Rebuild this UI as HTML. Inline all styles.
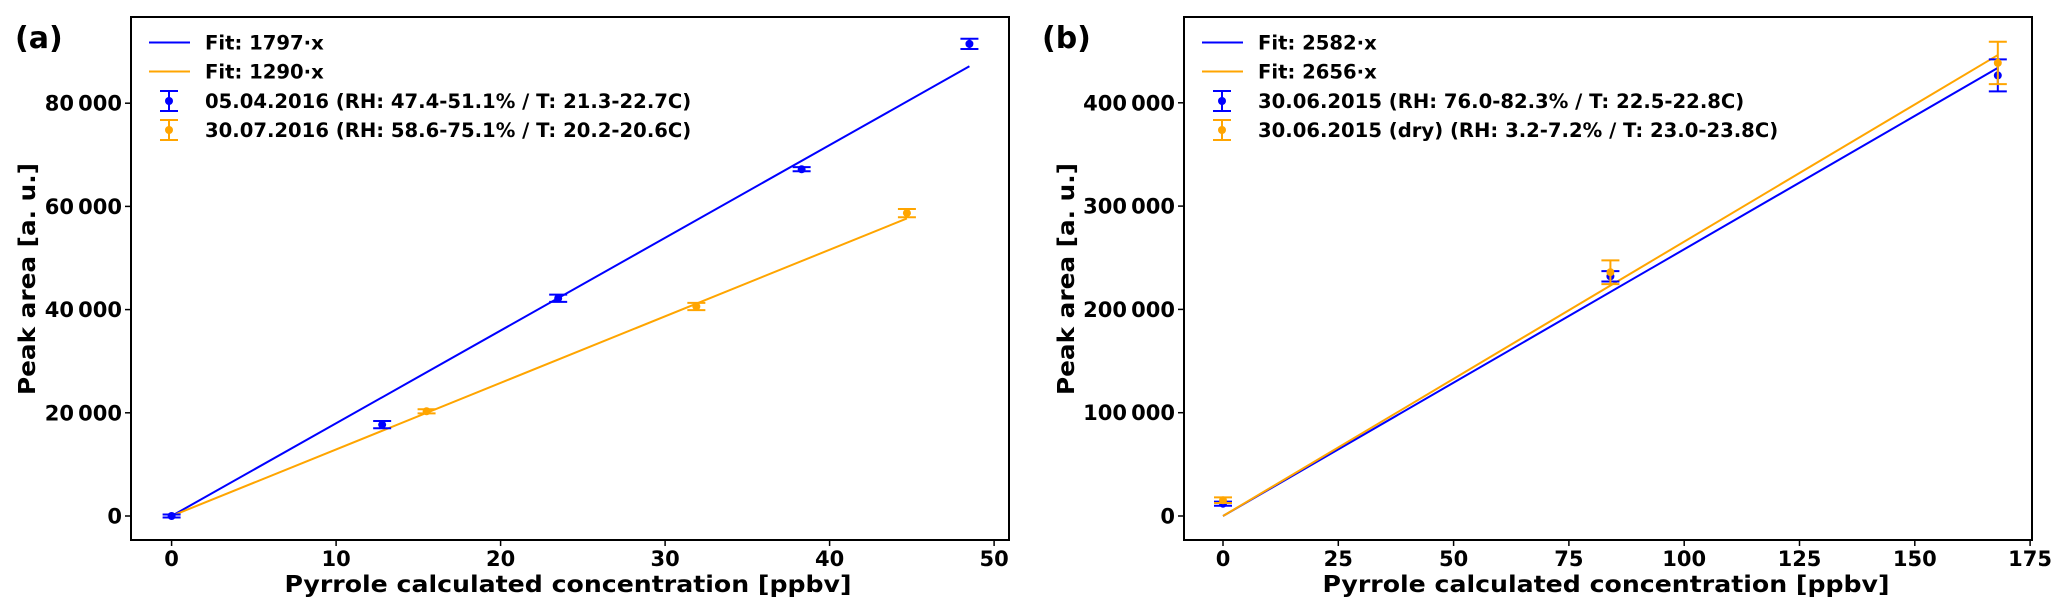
<!DOCTYPE html>
<html><head><meta charset="utf-8"><style>
html,body{margin:0;padding:0;background:#fff}
svg{display:block;font-family:"DejaVu Sans","Liberation Sans",sans-serif;font-weight:bold}
</style></head><body>
<svg id="chart" width="2067" height="616" viewBox="0 0 2067 616" xmlns="http://www.w3.org/2000/svg"></svg>
<script>
// Panel (a) data
const aBlueX = [0, 12.8, 23.5, 38.3, 48.5];
const aBlueY = [0, 17700, 42200, 67200, 91500];
const aBlueErr = [300, 700, 700, 400, 1000];
const aOrangeX = [15.5, 31.9, 44.7];
const aOrangeY = [20300, 40600, 58700];
const aOrangeErr = [400, 700, 800];
const aFitSlopes = [1797, 1290];
const aFitMaxX = [48.5, 44.7];
const aXTicks = [0, 10, 20, 30, 40, 50];
const aYTicks = [0, 20000, 40000, 60000, 80000];
const aLegend = ["Fit: 1797·x", "Fit: 1290·x", "05.04.2016 (RH: 47.4-51.1% / T: 21.3-22.7C)", "30.07.2016 (RH: 58.6-75.1% / T: 20.2-20.6C)"];
// Panel (b) data
const bBlueX = [0, 84, 168];
const bBlueY = [11900, 232000, 426500];
const bBlueErr = [2000, 5000, 15500];
const bOrangeX = [0, 84, 168];
const bOrangeY = [15300, 236000, 438600];
const bOrangeErr = [2700, 11500, 20500];
const bFitSlopes = [2582, 2656];
const bFitMaxX = [168, 168];
const bXTicks = [0, 25, 50, 75, 100, 125, 150, 175];
const bYTicks = [0, 100000, 200000, 300000, 400000];
const bLegend = ["Fit: 2582·x", "Fit: 2656·x", "30.06.2015 (RH: 76.0-82.3% / T: 22.5-22.8C)", "30.06.2015 (dry) (RH: 3.2-7.2% / T: 23.0-23.8C)"];

const NS = "http://www.w3.org/2000/svg";
const svg = document.getElementById('chart');
const BLUE = "#0000ff", ORANGE = "#ffa500";
function mk(tag, attrs, parent, text) {
  const e = document.createElementNS(NS, tag);
  for (const k in attrs) e.setAttribute(k, attrs[k]);
  if (text !== undefined) e.textContent = text;
  (parent || svg).appendChild(e);
  return e;
}
function fmt(v) { return String(v).replace(/\B(?=(\d{3})+(?!\d))/g, "\u2009"); }

function panel(cfg) {
  const g = mk('g', {});
  
  
  const sx = v => cfg.x0 + (v - cfg.xa) * cfg.xs;
  const sy = v => cfg.y0 - v * cfg.ys;
  cfg.slopes.forEach((s, i) => {
    const l = mk('line', {x1: sx(0), y1: sy(0), x2: sx(cfg.fitMax[i]), y2: sy(s * cfg.fitMax[i]), stroke: i ? ORANGE : BLUE, 'stroke-width': 2}, g);
    
    
  });
  [[cfg.bx, cfg.by, cfg.be, BLUE, 'blue'], [cfg.ox, cfg.oy, cfg.oe, ORANGE, 'orange']].forEach(([xs, ys, es, c, nm]) => {
    xs.forEach((x, i) => {
      const pg = mk('g', {}, g);
      
      
      const px = sx(x), top = sy(ys[i] + es[i]), bot = sy(ys[i] - es[i]);
      mk('line', {x1: px, y1: top, x2: px, y2: bot, stroke: c, 'stroke-width': 2}, pg);
      mk('line', {x1: px - 9, y1: top, x2: px + 9, y2: top, stroke: c, 'stroke-width': 2}, pg);
      mk('line', {x1: px - 9, y1: bot, x2: px + 9, y2: bot, stroke: c, 'stroke-width': 2}, pg);
      mk('circle', {cx: px, cy: sy(ys[i]), r: 4, fill: c}, pg);
    });
  });
  const box = mk('rect', {x: cfg.L, y: 17, width: cfg.R - cfg.L, height: 523, fill: 'none', stroke: '#000', 'stroke-width': 2}, g);
  
  
  cfg.xt.forEach(t => {
    mk('line', {x1: sx(t), y1: 540, x2: sx(t), y2: 546, stroke: '#000', 'stroke-width': 1.5}, g);
    const tl = mk('text', {x: sx(t), y: 566, 'font-size': 21, 'text-anchor': 'middle'}, g, String(t));
    
    
  });
  cfg.yt.forEach(t => {
    mk('line', {x1: cfg.L - 6, y1: sy(t), x2: cfg.L, y2: sy(t), stroke: '#000', 'stroke-width': 1.5}, g);
    const tl = mk('text', {x: cfg.L - 9, y: sy(t) + 7.5, 'font-size': 21, 'text-anchor': 'end'}, g, fmt(t));
    
    
  });
  const xt = mk('text', {x: (cfg.L + cfg.R) / 2 - 2, y: 592, 'font-size': 23, 'text-anchor': 'middle', textLength: 567, lengthAdjust: 'spacingAndGlyphs'}, g, 'Pyrrole calculated concentration [ppbv]');
  
  
  const yt = mk('text', {x: 0, y: 0, 'font-size': 23, 'text-anchor': 'middle', textLength: 232, lengthAdjust: 'spacingAndGlyphs', transform: `translate(${cfg.ytx},279) rotate(-90)`}, g, 'Peak area [a. u.]');
  
  
  const pl = mk('text', {x: cfg.lblx, y: 48, 'font-size': 30}, g, cfg.label);
  
  
  const lg = mk('g', {}, g);
  
  
  const rows = [42.5, 71.5, 101, 130];
  cfg.legend.forEach((txt, i) => {
    const c = (i % 2) ? ORANGE : BLUE;
    const eg = mk('g', {}, lg);
    
    
    const y = rows[i];
    if (i < 2) {
      mk('line', {x1: cfg.legX, y1: y, x2: cfg.legX + 41, y2: y, stroke: c, 'stroke-width': 2}, eg);
    } else {
      const mx = cfg.legX + 20;
      mk('line', {x1: mx, y1: y - 10, x2: mx, y2: y + 10, stroke: c, 'stroke-width': 2}, eg);
      mk('line', {x1: mx - 9, y1: y - 10, x2: mx + 9, y2: y - 10, stroke: c, 'stroke-width': 2}, eg);
      mk('line', {x1: mx - 9, y1: y + 10, x2: mx + 9, y2: y + 10, stroke: c, 'stroke-width': 2}, eg);
      mk('circle', {cx: mx, cy: y, r: 4, fill: c}, eg);
    }
    mk('text', {x: cfg.legX + 56, y: y + 7, 'font-size': 19.6}, eg, txt);
  });
}

panel({name: 'panel-a', L: 131, R: 1009, x0: 171.6, xa: 0, xs: 16.45, y0: 516, ys: 103.2 / 20000,
  bx: aBlueX, by: aBlueY, be: aBlueErr, ox: aOrangeX, oy: aOrangeY, oe: aOrangeErr,
  slopes: aFitSlopes, fitMax: aFitMaxX, xt: aXTicks, yt: aYTicks, legend: aLegend,
  ytx: 35, lblx: 15, label: '(a)', legX: 149});
panel({name: 'panel-b', L: 1184, R: 2032, x0: 1223, xa: 0, xs: 115.3 / 25, y0: 516, ys: 103.3 / 100000,
  bx: bBlueX, by: bBlueY, be: bBlueErr, ox: bOrangeX, oy: bOrangeY, oe: bOrangeErr,
  slopes: bFitSlopes, fitMax: bFitMaxX, xt: bXTicks, yt: bYTicks, legend: bLegend,
  ytx: 1074, lblx: 1042, label: '(b)', legX: 1202});
</script>
</body></html>
